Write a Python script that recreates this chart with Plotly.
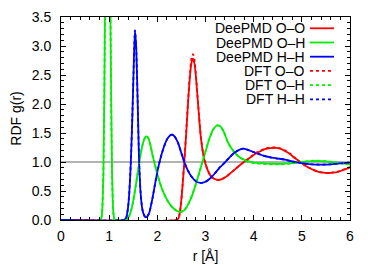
import plotly.graph_objects as go

# ---------------- data ----------------
r_oo = [0.0, 2.38, 2.44, 2.48, 2.52, 2.56, 2.60, 2.64, 2.68, 2.71, 2.74, 2.77, 2.80, 2.85, 2.90,
        2.95, 3.00, 3.05, 3.10, 3.18, 3.27, 3.35, 3.45, 3.55, 3.65, 3.75, 3.85, 3.95, 4.05, 4.15,
        4.25, 4.35, 4.45, 4.55, 4.65, 4.75, 4.85, 4.95, 5.05, 5.15, 5.25, 5.35, 5.45, 5.55, 5.65,
        5.75, 5.85, 5.95, 6.0]
g_oo_dp = [0.0, 0.0, 0.03, 0.2, 0.55, 1.0, 1.5, 2.05, 2.5, 2.72, 2.78, 2.7, 2.48, 1.95, 1.45,
           1.15, 0.97, 0.85, 0.77, 0.71, 0.69, 0.71, 0.76, 0.83, 0.90, 0.97, 1.03, 1.09, 1.15, 1.19,
           1.225, 1.24, 1.245, 1.23, 1.19, 1.14, 1.07, 1.01, 0.95, 0.90, 0.86, 0.83, 0.815, 0.81, 0.815,
           0.83, 0.86, 0.89, 0.91]
g_oo_dft = [0.0, 0.0, 0.03, 0.2, 0.56, 1.02, 1.53, 2.08, 2.56, 2.79, 2.86, 2.77, 2.52, 1.97, 1.46,
            1.15, 0.97, 0.85, 0.77, 0.71, 0.69, 0.71, 0.76, 0.83, 0.90, 0.97, 1.03, 1.10, 1.16, 1.20,
            1.235, 1.25, 1.25, 1.235, 1.20, 1.15, 1.08, 1.01, 0.95, 0.90, 0.86, 0.83, 0.815, 0.81, 0.82,
            0.835, 0.865, 0.895, 0.915]

r_oh = [0.0, 0.82, 0.85, 0.88, 0.91, 0.94, 0.97, 1.00, 1.03, 1.06, 1.09, 1.12, 1.36, 1.40, 1.45,
        1.50, 1.55, 1.60, 1.65, 1.70, 1.75, 1.78, 1.82, 1.86, 1.90, 1.95, 2.00, 2.05, 2.10, 2.20,
        2.30, 2.40, 2.48, 2.56, 2.64, 2.72, 2.80, 2.90, 3.00, 3.08, 3.16, 3.24, 3.30, 3.38, 3.47,
        3.57, 3.68, 3.80, 3.90, 4.00, 4.20, 4.40, 4.60, 4.80, 5.00, 5.20, 5.40, 5.60, 5.80, 6.00]
g_oh_dp = [0.0, 0.0, 0.1, 0.8, 3.2, 7.0, 9.5, 7.0, 3.2, 0.8, 0.1, 0.0, 0.0, 0.04, 0.15,
           0.33, 0.58, 0.85, 1.12, 1.32, 1.43, 1.44, 1.40, 1.28, 1.12, 0.95, 0.79, 0.65, 0.53, 0.35,
           0.23, 0.16, 0.14, 0.17, 0.27, 0.42, 0.62, 0.90, 1.18, 1.40, 1.56, 1.63, 1.62, 1.52, 1.33,
           1.20, 1.10, 1.04, 1.01, 0.99, 0.98, 0.97, 0.97, 0.98, 1.00, 1.015, 1.015, 1.00, 0.98, 0.96]
g_oh_dft = [0.0, 0.0, 0.1, 0.8, 3.2, 7.0, 9.5, 7.0, 3.2, 0.8, 0.1, 0.0, 0.0, 0.04, 0.15,
            0.33, 0.58, 0.85, 1.12, 1.32, 1.43, 1.44, 1.40, 1.28, 1.12, 0.95, 0.79, 0.65, 0.53, 0.35,
            0.23, 0.16, 0.14, 0.17, 0.27, 0.42, 0.62, 0.90, 1.18, 1.40, 1.56, 1.63, 1.62, 1.52, 1.33,
            1.20, 1.10, 1.03, 1.00, 0.98, 0.965, 0.96, 0.96, 0.975, 1.00, 1.02, 1.02, 1.005, 0.98, 0.96]

r_hh = [0.0, 1.30, 1.35, 1.39, 1.42, 1.45, 1.48, 1.51, 1.535, 1.56, 1.59, 1.62, 1.65, 1.69, 1.74,
        1.78, 1.83, 1.90, 1.97, 2.04, 2.12, 2.20, 2.27, 2.31, 2.36, 2.43, 2.50, 2.56, 2.63, 2.70,
        2.80, 2.90, 3.00, 3.10, 3.20, 3.30, 3.40, 3.50, 3.60, 3.70, 3.78, 3.88, 4.00, 4.10, 4.20,
        4.35, 4.50, 4.65, 4.80, 5.00, 5.20, 5.40, 5.60, 5.80, 6.00]
g_hh_dp = [0.0, 0.0, 0.03, 0.2, 0.5, 1.0, 1.75, 2.65, 3.27, 3.0, 2.1, 1.05, 0.5, 0.18, 0.06,
           0.05, 0.12, 0.38, 0.70, 0.98, 1.22, 1.39, 1.46, 1.47, 1.44, 1.33, 1.15, 1.00, 0.86, 0.76,
           0.67, 0.64, 0.66, 0.72, 0.81, 0.91, 0.99, 1.08, 1.16, 1.21, 1.23, 1.21, 1.17, 1.14, 1.11,
           1.08, 1.06, 1.04, 1.01, 0.98, 0.96, 0.955, 0.96, 0.975, 0.99]
g_hh_dft = [0.0, 0.0, 0.03, 0.2, 0.5, 1.0, 1.75, 2.65, 3.27, 3.0, 2.1, 1.05, 0.5, 0.18, 0.06,
            0.05, 0.12, 0.38, 0.70, 0.98, 1.22, 1.39, 1.46, 1.47, 1.44, 1.33, 1.15, 1.00, 0.86, 0.76,
            0.67, 0.64, 0.66, 0.72, 0.81, 0.91, 0.99, 1.08, 1.16, 1.21, 1.23, 1.21, 1.17, 1.14, 1.11,
            1.08, 1.06, 1.04, 1.01, 0.98, 0.96, 0.955, 0.96, 0.975, 0.99]

names = ["DeePMD O\u2013O", "DeePMD O\u2013H", "DeePMD H\u2013H",
         "DFT O\u2013O", "DFT O\u2013H", "DFT H\u2013H"]
x_ticks = [0, 1, 2, 3, 4, 5, 6]
y_ticks = [0.0, 0.5, 1.0, 1.5, 2.0, 2.5, 3.0, 3.5]
y_tick_text = ["0.0", "0.5", "1.0", "1.5", "2.0", "2.5", "3.0", "3.5"]
reference_level = 1.0

# ---------------- figure ----------------
RED, GREEN, BLUE = "#ff0000", "#00ee00", "#0000ff"
series = [
    (r_oo, g_oo_dp, RED, "solid"),
    (r_oh, g_oh_dp, GREEN, "solid"),
    (r_hh, g_hh_dp, BLUE, "solid"),
    (r_oo, g_oo_dft, RED, "dot"),
    (r_oh, g_oh_dft, GREEN, "dot"),
    (r_hh, g_hh_dft, BLUE, "dot"),
]

# page has an 8px body margin: figure is offset by (8, 8) inside the window
OFF = 8
W, H = 374 - OFF, 265 - OFF
# target plot box in window pixels: left 61, right 350, top 17, bottom 220
ml, mt = 61 - OFF, 17 - OFF
mr = W - (350 - OFF)
mb = H - (220 - OFF)
pw = W - ml - mr
ph = H - mt - mb

fig = go.Figure()
for (x, y, c, d), n in zip(series, names):
    fig.add_trace(go.Scatter(x=x, y=y, mode="lines", name=n, showlegend=False,
                             line=dict(color=c, width=1.8, dash=d, shape="spline", smoothing=0.6)))

fig.add_hline(y=reference_level, line=dict(color="#9a9a9a", width=1.5), layer="below")

# gnuplot-style key: right-aligned text, line sample to its right (window pixel rows)
row0, drow = 28.3, 14.2
for i, ((x, y, c, d), n) in enumerate(zip(series, names)):
    ypix = row0 + i * drow - OFF
    yp = 1 - (ypix - mt) / ph
    fig.add_annotation(x=(306 - OFF - ml) / pw, y=yp, xref="paper", yref="paper", text=n,
                       showarrow=False, xanchor="right", yanchor="middle", borderpad=0,
                       font=dict(size=14, color="#000"))
    fig.add_shape(type="line", xref="paper", yref="paper",
                  x0=(310 - OFF - ml) / pw, x1=(334 - OFF - ml) / pw, y0=yp, y1=yp,
                  line=dict(color=c, width=1.8, dash=d))

axis_common = dict(showgrid=False, zeroline=False, showline=True, linecolor="#000", linewidth=1,
                   mirror="ticks", ticks="inside", ticklen=5, tickcolor="#000", tickwidth=1,
                   tickfont=dict(size=14, color="#000"), automargin=False)
fig.update_xaxes(range=[0, 6], tickvals=x_ticks, ticklabelstandoff=3,
                 minor=dict(dtick=0.2, ticks="inside", ticklen=3, tickcolor="#000"),
                 title=dict(text="r [\u00c5]", font=dict(size=14, color="#000"), standoff=8),
                 **axis_common)
fig.update_yaxes(range=[0, 3.5], tickvals=y_ticks, ticktext=y_tick_text, ticklabelstandoff=6,
                 minor=dict(dtick=0.1, ticks="inside", ticklen=3, tickcolor="#000"),
                 title=dict(text="RDF g(r)", font=dict(size=14, color="#000"), standoff=11),
                 **axis_common)

fig.update_layout(width=W, height=H, margin=dict(l=ml, r=mr, t=mt, b=mb, autoexpand=False),
                  paper_bgcolor="white", plot_bgcolor="white",
                  font=dict(family="Liberation Sans, Arial, sans-serif", size=14, color="#000"))

fig.write_html("out.html")
